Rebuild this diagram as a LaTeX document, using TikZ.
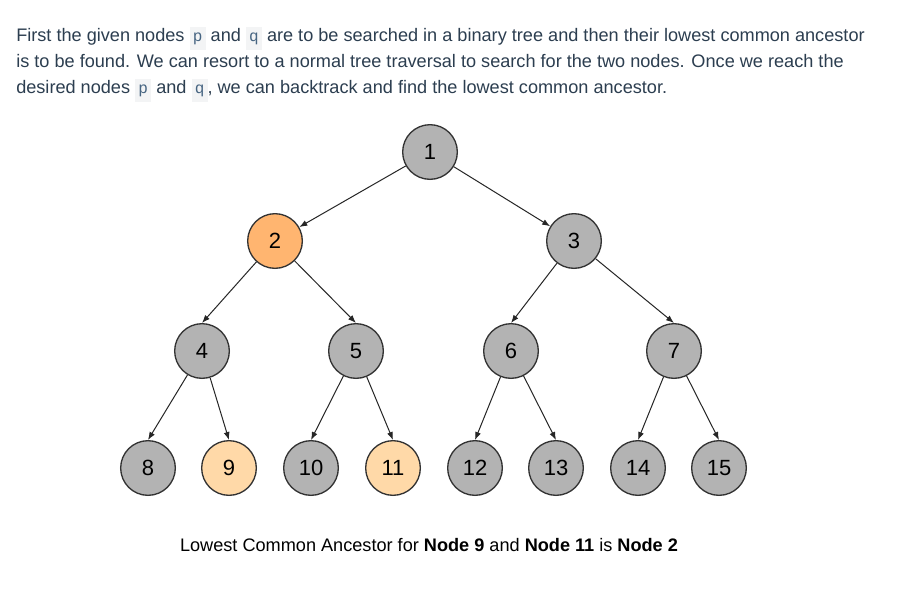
\documentclass[tikz,border=0pt]{standalone}
\usepackage{fontspec}
\setmainfont{Liberation Sans}
\newfontfamily\codefont{Liberation Mono}
\usetikzlibrary{arrows.meta}
\definecolor{bodytxt}{HTML}{2C3E50}
\definecolor{codebg}{HTML}{F3F4F5}
\definecolor{codefg}{HTML}{476582}
\definecolor{ngray}{HTML}{B3B3B3}
\definecolor{norange}{HTML}{FFB570}
\definecolor{nlight}{HTML}{FFD9A8}
\definecolor{nborder}{HTML}{333333}
\newcommand\cd[1]{{\setlength\fboxsep{2.4pt}\colorbox{codebg}{\codefont\fontsize{12pt}{13pt}\selectfont\color{codefg}\rule[-4.5pt]{0pt}{12.5pt}#1}}}
\begin{document}
\begin{tikzpicture}[x=0.75pt,y=-0.75pt,
  tnode/.style={circle,draw=nborder,line width=1pt,minimum size=41pt,inner sep=0pt,font=\fontsize{16.5pt}{16.5pt}\selectfont,fill=ngray},
  body/.style={anchor=base west,inner sep=0pt,text=bodytxt,font=\fontsize{13.6pt}{15pt}\selectfont},
  edge/.style={draw=black!85,line width=0.75pt,-{Latex[length=6pt,width=4.5pt]}}]
\useasboundingbox[fill=white] (0,0) rectangle (903,604);
\node[body] (l1) at (16,41) {First the given nodes \cd{p} and \cd{q} are to be searched in a binary tree and then their lowest common ancestor};
\node[body] (l2) at (16,67) {is to be found. We can resort to a normal tree traversal to search for the two nodes. Once we reach the};
\node[body] (l3) at (16,93) {desired nodes \cd{p} and \cd{q}, we can backtrack and find the lowest common ancestor.};

\node[tnode] (n1) at (430,152) {1};
\node[tnode,fill=norange] (n2) at (275,241) {2};
\node[tnode] (n3) at (574,241) {3};
\node[tnode] (n4) at (202,351) {4};
\node[tnode] (n5) at (356,351) {5};
\node[tnode] (n6) at (511,351) {6};
\node[tnode] (n7) at (674,351) {7};
\node[tnode] (n8) at (148,468) {8};
\node[tnode,fill=nlight] (n9) at (229,468) {9};
\node[tnode] (n10) at (311,468) {10};
\node[tnode,fill=nlight] (n11) at (393,468) {11};
\node[tnode] (n12) at (475,468) {12};
\node[tnode] (n13) at (556,468) {13};
\node[tnode] (n14) at (638,468) {14};
\node[tnode] (n15) at (719,468) {15};

\draw[edge] (n1) -- (n2);
\draw[edge] (n1) -- (n3);
\draw[edge] (n2) -- (n4.north);
\draw[edge] (n2) -- (n5.north);
\draw[edge] (n3) -- (n6.north);
\draw[edge] (n3) -- (n7.north);
\draw[edge] (n4) -- (n8.north);
\draw[edge] (n4) -- (n9.north);
\draw[edge] (n5) -- (n10.north);
\draw[edge] (n5) -- (n11.north);
\draw[edge] (n6) -- (n12.north);
\draw[edge] (n6) -- (n13.north);
\draw[edge] (n7) -- (n14.north);
\draw[edge] (n7) -- (n15.north);

\node[anchor=base,inner sep=0pt,font=\fontsize{13.6pt}{15pt}\selectfont] (cap) at (429,551) {Lowest Common Ancestor for \textbf{Node 9} and \textbf{Node 11} is \textbf{Node 2}};
\end{tikzpicture}
\end{document}
